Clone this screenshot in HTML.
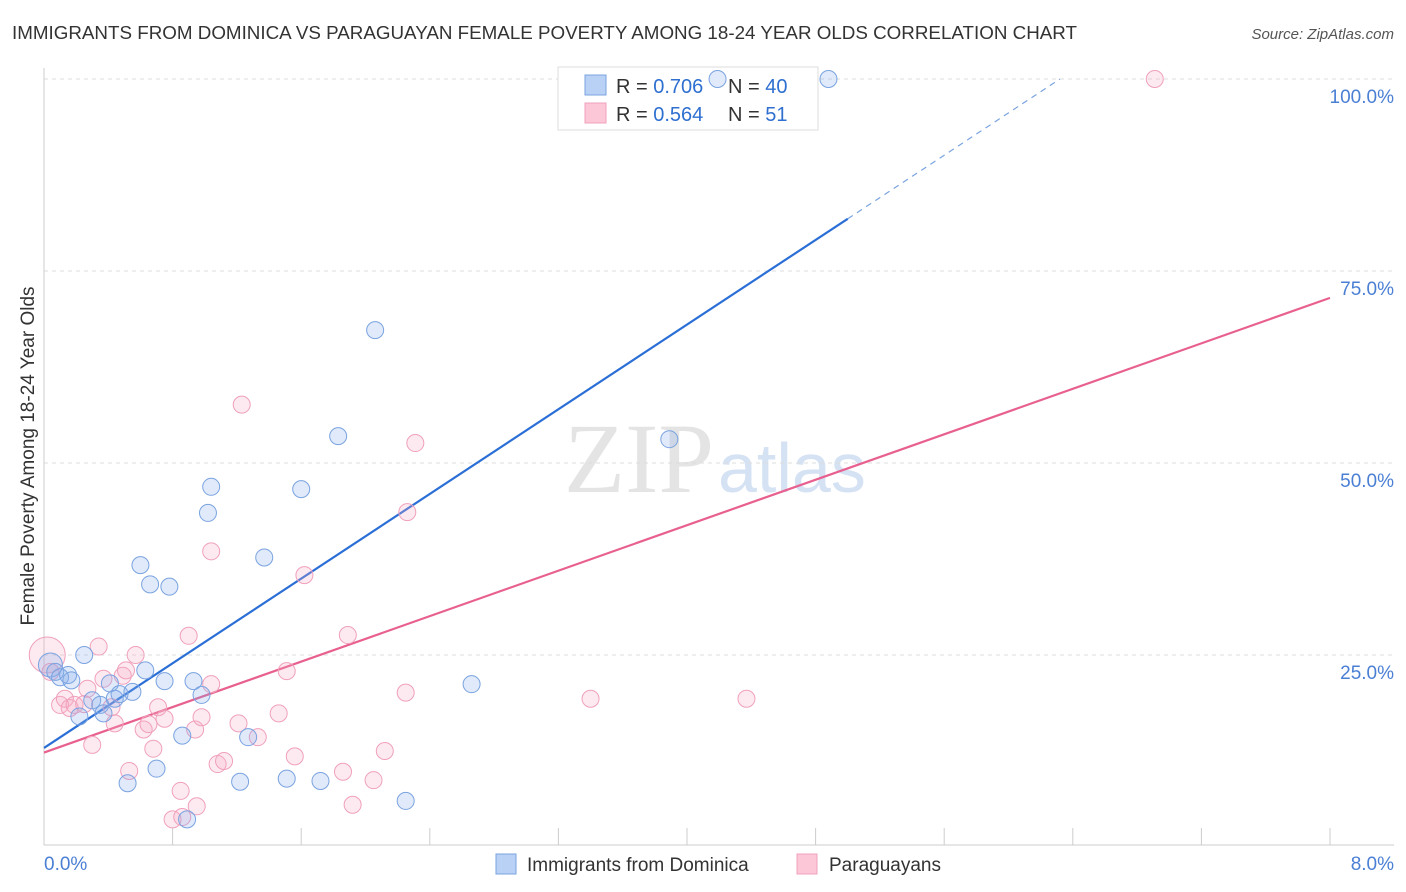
<!DOCTYPE html>
<html><head><meta charset="utf-8"><style>
body{margin:0;background:#fff;font-family:"Liberation Sans",sans-serif;}
svg{display:block}
</style></head><body>
<svg id="chart" width="1406" height="892" xmlns="http://www.w3.org/2000/svg">
<text x="12" y="39" font-size="18.8" fill="#333" textLength="1065">IMMIGRANTS FROM DOMINICA VS PARAGUAYAN FEMALE POVERTY AMONG 18-24 YEAR OLDS CORRELATION CHART</text>
<text x="1394" y="39" font-size="15" fill="#555" font-style="italic" text-anchor="end">Source: ZipAtlas.com</text>
<text x="714" y="492" font-size="100" fill="#e4e4e4" text-anchor="end" font-family="Liberation Serif">ZIP</text>
<text x="718" y="492" font-size="70" fill="#d5e2f4">atlas</text>
<text transform="translate(34,456) rotate(-90)" font-size="19" fill="#333" text-anchor="middle">Female Poverty Among 18-24 Year Olds</text>
<g id="grid"></g><g id="lines"></g>
<g>
<rect x="558" y="67" width="260" height="63" fill="#fff" stroke="#ddd"/>
<rect x="585" y="75" width="21" height="20" fill="#b9d1f5" stroke="#7aa3e0"/>
<rect x="585" y="103" width="21" height="20" fill="#fcc8d8" stroke="#f0a0bc"/>
<text x="616" y="93" font-size="20" fill="#333">R = <tspan fill="#2e6fd0">0.706</tspan></text>
<text x="728" y="93" font-size="20" fill="#333">N = <tspan fill="#2e6fd0">40</tspan></text>
<text x="616" y="121" font-size="20" fill="#333">R = <tspan fill="#2e6fd0">0.564</tspan></text>
<text x="728" y="121" font-size="20" fill="#333">N = <tspan fill="#2e6fd0"> 51</tspan></text>
</g>
<g id="pts"></g>
<g>
<rect x="496" y="854" width="20" height="20" fill="#b9d1f5" stroke="#7aa3e0"/>
<text x="527" y="871" font-size="19" fill="#333">Immigrants from Dominica</text>
<rect x="797" y="854" width="20" height="20" fill="#fcc8d8" stroke="#f0a0bc"/>
<text x="829" y="871" font-size="19" fill="#333">Paraguayans</text>
</g>
<text x="44" y="870" font-size="19" fill="#4a7fd4">0.0%</text>
<text x="1394" y="870" font-size="19" fill="#4a7fd4" text-anchor="end">8.0%</text>
</svg>
<script>
const yTicks=[25,50,75,100];
const yTickLabels=["25.0%","50.0%","75.0%","100.0%"];
const xTicks=[0,0.8,1.6,2.4,3.2,4.0,4.8,5.6,6.4,7.2,8.0];
const blueX=[0.04,0.07,0.10,0.15,0.17,0.22,0.25,0.30,0.35,0.37,0.41,0.44,0.47,0.55,0.60,0.63,0.66,0.70,0.75,0.78,0.86,0.93,0.98,1.02,1.04,1.22,1.27,1.37,1.51,1.60,1.72,1.83,2.06,2.25,2.66,3.89,4.19,4.88,0.52,0.89];
const blueY=[23.7,22.8,22.1,22.4,21.7,17.0,25.0,19.1,18.5,17.4,21.3,19.3,19.9,20.2,36.7,23.0,34.2,10.2,21.6,33.9,14.5,21.6,19.8,43.5,46.9,8.5,14.3,37.7,8.9,46.6,8.6,53.5,67.3,6.0,21.2,53.1,100,100,8.3,3.6];
const pinkX=[0.02,0.04,0.10,0.13,0.16,0.19,0.25,0.30,0.27,0.34,0.37,0.42,0.44,0.49,0.51,0.53,0.57,0.62,0.65,0.68,0.71,0.75,0.80,0.85,0.86,0.90,0.94,0.95,0.98,1.04,1.04,1.08,1.12,1.21,1.23,1.33,1.46,1.51,1.56,1.62,1.86,1.89,1.92,2.05,2.12,2.25,2.26,2.31,3.40,4.37,6.91];
const pinkY=[25.0,22.8,18.5,19.3,18.1,18.5,18.6,13.3,20.6,26.1,21.9,18.2,16.1,22.3,23.0,9.9,25.0,15.3,16.0,12.8,18.2,16.7,3.6,7.3,3.9,27.5,15.3,5.3,16.9,21.2,38.5,10.8,11.2,16.1,57.6,14.3,17.4,22.9,11.8,35.4,9.8,27.6,5.5,8.7,12.5,20.1,43.6,52.6,19.3,19.3,100];
const blueLine=[0,12.9,5.0,81.8];
const blueDash=[5.0,81.8,6.32,100];
const pinkLine=[0,12.3,8.0,71.5];
const X0=44,X1=1330,Y0=847,PXY=7.68;
const sx=v=>X0+(X1-X0)*v/8, sy=v=>Y0-v*PXY;
const NS="http://www.w3.org/2000/svg";
function mk(p,t,a){const e=document.createElementNS(NS,t);for(const k in a)e.setAttribute(k,a[k]);p.appendChild(e);return e;}
const grid=document.getElementById('grid');
yTicks.forEach((t,i)=>{
 const l=mk(grid,'line',{x1:X0,x2:1394,y1:sy(t),y2:sy(t),stroke:'#ddd','stroke-dasharray':'4,4'});
 
 
 const tx=mk(grid,'text',{x:1394,y:sy(t)+24,'font-size':19,fill:'#4a7fd4','text-anchor':'end'});
 tx.textContent=yTickLabels[i];
 
 
});
const ax=mk(grid,'line',{x1:X0,x2:1394,y1:845,y2:845,stroke:'#ccc'});


const ay=mk(grid,'line',{x1:X0,x2:X0,y1:68,y2:845,stroke:'#ccc'});


xTicks.forEach(t=>{
 const l=mk(grid,'line',{x1:sx(t),x2:sx(t),y1:828,y2:845,stroke:'#ccc'});
 
 
});
const lines=document.getElementById('lines');
let b=mk(lines,'line',{x1:sx(blueLine[0]),y1:sy(blueLine[1]),x2:sx(blueLine[2]),y2:sy(blueLine[3]),stroke:'#2b6fd6','stroke-width':2.2});


b=mk(lines,'line',{x1:sx(blueDash[0]),y1:sy(blueDash[1]),x2:sx(blueDash[2]),y2:sy(blueDash[3]),stroke:'#7aa3e0','stroke-width':1.2,'stroke-dasharray':'6,5'});


b=mk(lines,'line',{x1:sx(pinkLine[0]),y1:sy(pinkLine[1]),x2:sx(pinkLine[2]),y2:sy(pinkLine[3]),stroke:'#e8608f','stroke-width':2.2});


const pts=document.getElementById('pts');
pinkX.forEach((x,i)=>{
 const c=mk(pts,'circle',{cx:sx(x),cy:sy(pinkY[i]),r:i===0?18:8.5,fill:'rgba(248,170,196,0.25)',stroke:'#f0a0bc','stroke-width':1});
 
 
});
blueX.forEach((x,i)=>{
 const c=mk(pts,'circle',{cx:sx(x),cy:sy(blueY[i]),r:i===0?12:8.5,fill:'rgba(130,170,235,0.25)',stroke:'#7aa3e0','stroke-width':1});
 
 
});
</script>
</body></html>
